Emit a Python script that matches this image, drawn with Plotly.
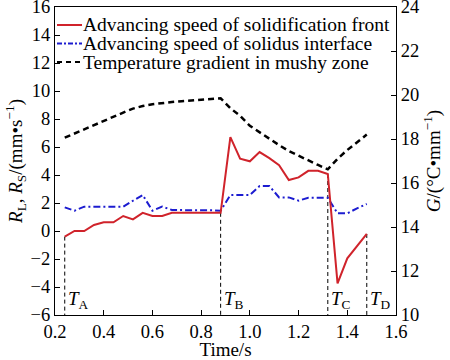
import plotly.graph_objects as go

# ---------------- data ----------------
time_s = [0.24, 0.28, 0.32, 0.36, 0.40, 0.44, 0.48, 0.52, 0.56, 0.60, 0.64, 0.68,
          0.72, 0.76, 0.80, 0.84, 0.88, 0.92, 0.96, 1.00, 1.04, 1.08, 1.12, 1.16,
          1.20, 1.24, 1.28, 1.32, 1.36, 1.40, 1.44, 1.48]
rl_front = [-0.40, 0.00, 0.00, 0.43, 0.62, 0.62, 1.07, 0.83, 1.30, 1.07, 1.07, 1.30,
            1.30, 1.30, 1.30, 1.30, 1.30, 6.70, 5.16, 4.98, 5.64, 5.20, 4.70, 3.64,
            3.83, 4.30, 4.30, 4.07, -3.74, -1.95, -1.05, -0.21]
rs_solidus = [1.69, 1.45, 1.74, 1.74, 1.74, 1.74, 1.74, 2.16, 2.57, 1.45, 1.74, 1.50,
              1.48, 1.48, 1.48, 1.48, 1.45, 2.57, 2.55, 2.57, 3.21, 3.21, 2.40, 2.40,
              2.17, 2.38, 2.38, 2.38, 1.26, 1.26, 1.62, 1.93]
g_mushy = [18.06, 18.25, 18.45, 18.65, 18.85, 19.02, 19.20, 19.38, 19.50, 19.58, 19.64, 19.68,
           19.72, 19.75, 19.78, 19.82, 19.85, 19.40, 19.05, 18.60, 18.30, 17.98, 17.72, 17.45,
           17.23, 17.02, 16.82, 16.62, 17.10, 17.50, 17.85, 18.20]

event_names = ["A", "B", "C", "D"]
event_times = [0.24, 0.88, 1.32, 1.48]

legend_labels = ["Advancing speed of solidification front",
                 "Advancing speed of solidus interface",
                 "Temperature gradient in mushy zone"]

x_ticks = [0.2, 0.4, 0.6, 0.8, 1.0, 1.2, 1.4, 1.6]
y_ticks = list(range(-6, 17, 2))
y2_ticks = list(range(10, 25, 2))

# ---------------- style ----------------
FONT = "Liberation Serif, Times New Roman, serif"
RED = "#d0232b"
BLUE = "#1c1cd0"
BLACK = "#000000"
W, H = 450, 360
ML, MR, MT, MB = 55, 54, 7, 45
PW, PH = W - ML - MR, H - MT - MB

fig = go.Figure()

# vertical event markers (from data)
rl_at = dict(zip(time_s, rl_front))
for name, t in zip(event_names, event_times):
    fig.add_trace(go.Scatter(x=[t, t], y=[rl_at[t], -6], mode="lines",
                             line=dict(color=BLACK, width=1, dash="4px,3px"),
                             showlegend=False, hoverinfo="skip"))
    fig.add_annotation(x=t, y=-4.95, xref="x", yref="y", xanchor="left", yanchor="middle",
                       xshift=1, showarrow=False,
                       text=f"<i>T</i><sub>{name}</sub>",
                       font=dict(family=FONT, size=19, color=BLACK))

fig.add_trace(go.Scatter(x=time_s, y=g_mushy, mode="lines", yaxis="y2",
                         line=dict(color=BLACK, width=2.5, dash="6px,4px"),
                         showlegend=False))
fig.add_trace(go.Scatter(x=time_s, y=rs_solidus, mode="lines",
                         line=dict(color=BLUE, width=2, dash="7px,3px,2px,3px"),
                         showlegend=False))
fig.add_trace(go.Scatter(x=time_s, y=rl_front, mode="lines",
                         line=dict(color=RED, width=2),
                         showlegend=False))

# manual legend (inside top-left of the frame)
leg_rows_px = [25, 43.5, 62]
leg_styles = [dict(color=RED, width=2), dict(color=BLUE, width=2, dash="5px,2px,2px,2px"),
              dict(color=BLACK, width=2, dash="5px,4px")]
def px_x(p):
    return (p - ML) / PW
def px_y(p):
    return (H - MB - p) / PH
for lab, ry, st in zip(legend_labels, leg_rows_px, leg_styles):
    fig.add_shape(type="line", xref="paper", yref="paper",
                  x0=px_x(57), x1=px_x(82), y0=px_y(ry), y1=px_y(ry), line=st)
    fig.add_annotation(x=px_x(81), y=px_y(ry), xref="paper", yref="paper",
                       xanchor="left", yanchor="middle", showarrow=False, text=lab,
                       font=dict(family=FONT, size=19.5, color=BLACK))

axis_common = dict(showline=True, linecolor=BLACK, linewidth=1.2, ticks="inside",
                   ticklen=5, tickcolor=BLACK, showgrid=False, zeroline=False,
                   automargin=False, ticklabeloverflow="allow",
                   tickfont=dict(family=FONT, size=18.5, color=BLACK))

fig.update_layout(
    width=W, height=H,
    margin=dict(l=ML, r=MR, t=MT, b=MB, autoexpand=False),
    paper_bgcolor="white", plot_bgcolor="white",
    font=dict(family=FONT, size=18, color=BLACK),
    xaxis=dict(range=[0.2, 1.6], tickvals=x_ticks, ticktext=[f"{v:.1f}" for v in x_ticks],
               mirror=True,
               title=dict(text="Time/s", font=dict(family=FONT, size=19, color=BLACK), standoff=0),
               **axis_common),
    yaxis=dict(range=[-6, 16], tickvals=y_ticks,
               title=dict(text="<i>R</i><sub>L</sub>, <i>R</i><sub>S</sub>/(mm•s<sup>−1</sup>)",
                          font=dict(family=FONT, size=19, color=BLACK), standoff=2),
               **axis_common),
    yaxis2=dict(range=[10, 24], tickvals=y2_ticks, overlaying="y", side="right",
                title=dict(text="<i>G</i>/(°C•mm<sup>−1</sup>)",
                           font=dict(family=FONT, size=19, color=BLACK), standoff=8),
                **axis_common),
)

fig.write_html("out.html", config={"displayModeBar": False},
               post_script="document.body.style.margin='0';document.body.style.overflow='hidden';")
